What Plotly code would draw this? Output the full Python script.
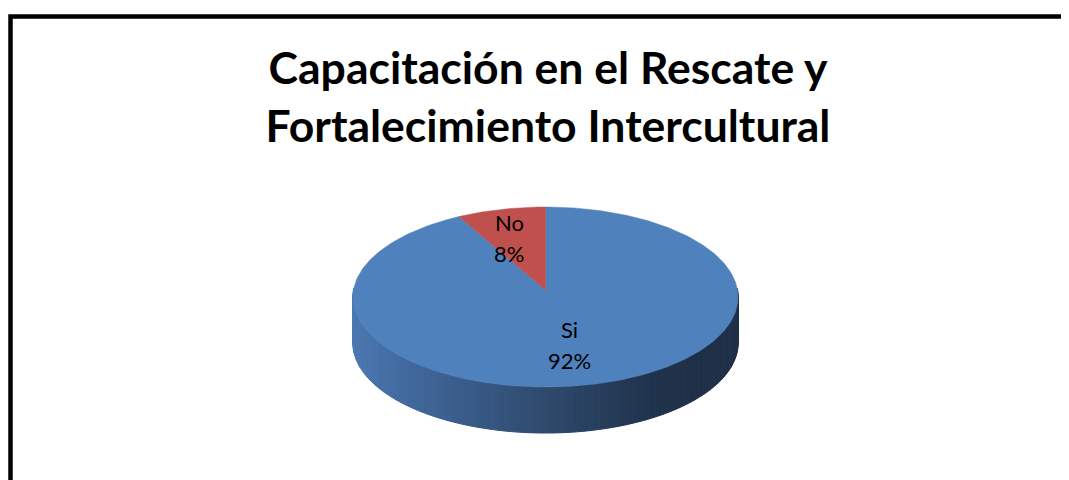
import numpy as np
import plotly.graph_objects as go

# ---- data ----
categories = ["Si", "No"]
values = [92, 8]
slice_colors = ["#4F81BD", "#C0504D"]
title_lines = ["Capacitación en el Rescate y", "Fortalecimiento Intercultural"]

# ---- geometry / style (page-pixel units; page body has an 8px margin) ----
PAGE_W, PAGE_H = 1069, 480
OFF = 8
W, H = PAGE_W - OFF, PAGE_H - OFF
CX, CY = 545.5, 290.0      # projected pie centre (apex)
RX = 192.0                  # horizontal radius
SIN_E = 0.466               # sine of viewing elevation
K = 0.078                   # perspective factor
DEPTH = 46.0                # thickness of the pie
LABEL_R = {"Si": 0.55, "No": 0.74}
LABEL_DY = {"Si": 5, "No": 9}
LABEL_DX = {"Si": -3, "No": -3}
LINE_GAP = 15.5
FONT = "Lato, 'Open Sans', sans-serif"

# side gradient stops (screen x, rgb)
GRAD = [(353, (75, 120, 177)), (420, (63, 101, 152)), (545, (47, 74, 109)),
        (650, (33, 51, 76)), (700, (31, 48, 72))]


def proj(r, phi):
    s = 1 + K * r * np.cos(phi)
    x = CX + RX * r * np.sin(phi) / s
    y = CY - RX * SIN_E * r * np.cos(phi) / s
    return x, y


def grad_color(x):
    xs = [g[0] for g in GRAD]
    rgb = [int(round(np.interp(x, xs, [g[1][i] for g in GRAD]))) for i in range(3)]
    return "rgb(%d,%d,%d)" % tuple(rgb)


fig = go.Figure()

# side (front half) drawn as thin strips with a horizontal gradient
phis = np.linspace(np.pi / 2 - 0.02, 3 * np.pi / 2 + 0.02, 121)
for a0, a1 in zip(phis[:-1], phis[1:]):
    sub = np.linspace(a0, a1, 3)
    xt, yt = proj(1.0, sub)
    xs = np.concatenate([xt, xt[::-1], xt[:1]])
    ys = np.concatenate([yt, yt[::-1] + DEPTH, yt[:1]])
    col = grad_color(float(np.mean(xt)))
    fig.add_trace(go.Scatter(x=xs, y=ys, mode="lines", fill="toself",
                             fillcolor=col, line=dict(color=col, width=1),
                             hoverinfo="skip", showlegend=False))

# top face slices
total = float(sum(values))
cum = np.concatenate([[0.0], np.cumsum(values)]) / total * 2 * np.pi
for i, (cat, val) in enumerate(zip(categories, values)):
    arc = np.linspace(cum[i], cum[i + 1], max(8, int(val * 4)))
    xa, ya = proj(1.0, arc)
    xs = np.concatenate([[CX], xa, [CX]])
    ys = np.concatenate([[CY], ya, [CY]])
    fig.add_trace(go.Scatter(x=xs, y=ys, mode="lines", fill="toself",
                             fillcolor=slice_colors[i],
                             line=dict(color=slice_colors[i], width=0.5),
                             name=cat, hoverinfo="name", showlegend=False))
    mid = (cum[i] + cum[i + 1]) / 2
    lx, ly = proj(LABEL_R[cat], mid)
    lx += LABEL_DX[cat]
    ly += LABEL_DY[cat]
    pct = "%d%%" % round(val / total * 100)
    fig.add_annotation(x=lx, y=ly - LINE_GAP, text=cat, showarrow=False,
                       font=dict(family=FONT, size=22, color="#000000"))
    fig.add_annotation(x=lx, y=ly + LINE_GAP, text=pct, showarrow=False,
                       font=dict(family=FONT, size=22, color="#000000"))

fig.update_layout(
    width=W, height=H,
    margin=dict(l=0, r=0, t=0, b=0),
    paper_bgcolor="white", plot_bgcolor="white",
    title=dict(text="<b>" + title_lines[0] + "<br>" + title_lines[1] + "</b>",
               x=(548 - OFF) / W, xanchor="center",
               y=1 - (84 - OFF) / H, yanchor="middle",
               font=dict(family=FONT, size=44.5, color="#000000")),
    xaxis=dict(range=[OFF, OFF + W], visible=False, fixedrange=True),
    yaxis=dict(range=[OFF + H, OFF], visible=False, fixedrange=True),
    shapes=[dict(type="rect", xref="x", yref="y",
                 x0=10.5, x1=PAGE_W + 20, y0=16.5, y1=PAGE_H + 20,
                 line=dict(color="black", width=4.5))],
)

fig.write_html("out.html")
